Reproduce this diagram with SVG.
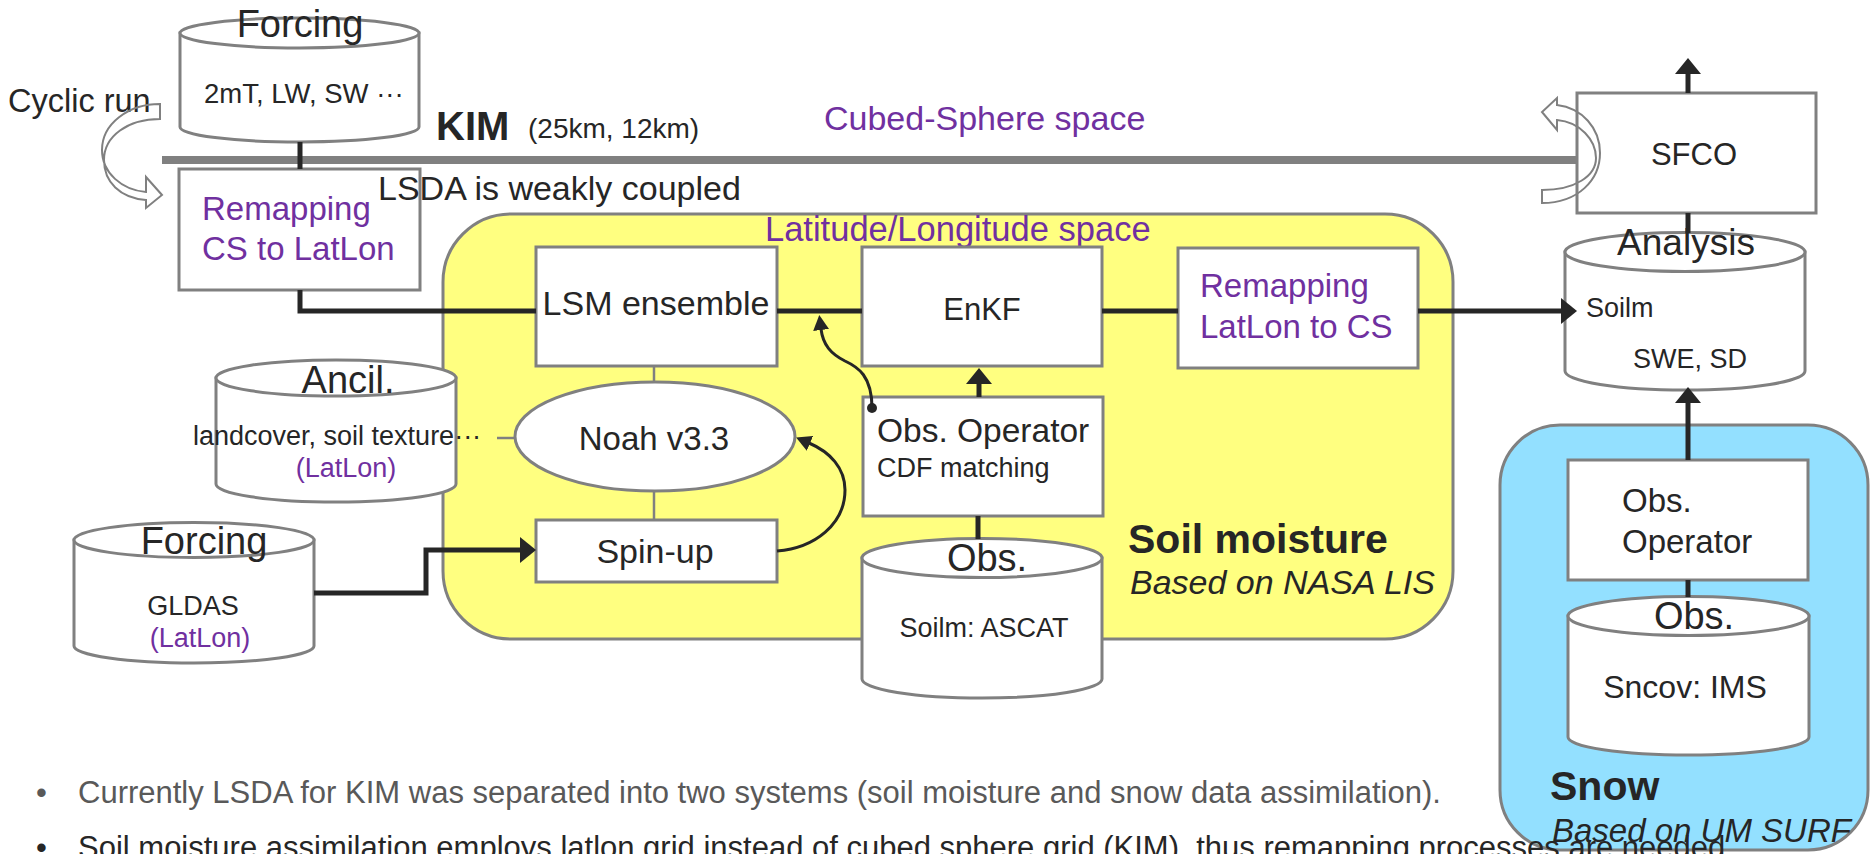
<svg xmlns="http://www.w3.org/2000/svg" width="1872" height="854" viewBox="0 0 1872 854">
<style>
.box{fill:#ffffff;stroke:#808080;stroke-width:3}
.cyl{fill:#ffffff;stroke:#808080;stroke-width:3}
.t{font-family:"Liberation Sans",Arial,sans-serif;fill:#262626}
.p{fill:#7030A0}
.c{text-anchor:middle}
.conn{stroke:#262626;stroke-width:5;fill:none}
.thin{stroke:#262626;stroke-width:3;fill:none}
.gline{stroke:#808080;stroke-width:2.5;fill:none}
.cyc{stroke:#808080;stroke-width:2;fill:none;stroke-linejoin:miter}
</style>
<defs>
<marker id="ah" markerUnits="userSpaceOnUse" markerWidth="16" markerHeight="26" viewBox="0 0 16 26" refX="0" refY="13" orient="auto"><path d="M0,0 L16,13 L0,26 Z" fill="#262626"/></marker>
<marker id="ahs" markerUnits="userSpaceOnUse" markerWidth="15" markerHeight="16" viewBox="0 0 15 16" refX="1" refY="8" orient="auto"><path d="M0,0 L15,8 L0,16 Z" fill="#262626"/></marker>
<marker id="dot" markerUnits="userSpaceOnUse" markerWidth="12" markerHeight="12" viewBox="0 0 12 12" refX="6" refY="6"><circle cx="6" cy="6" r="5" fill="#262626"/></marker>
</defs>
<rect width="1872" height="854" fill="#ffffff"/>

<!-- regions -->
<g id="kim-bar">
<line x1="162" y1="160" x2="1577" y2="160" stroke="#808080" stroke-width="8"/>
<text class="t" x="436" y="140" font-size="40" font-weight="bold">KIM</text>
<text class="t" x="528" y="138" font-size="28">(25km, 12km)</text>
<text class="t p" x="824" y="130" font-size="34">Cubed-Sphere space</text>
<text class="t" x="8" y="112" font-size="32.5">Cyclic run</text>
</g>
<g id="soil-moisture-region">
<rect x="443" y="214" width="1010" height="425" rx="68" ry="68" fill="#FFFF80" stroke="#808080" stroke-width="3"/>
<text class="t p" x="765" y="241" font-size="34.5">Latitude/Longitude space</text>
<text class="t" x="1128" y="553" font-size="41" font-weight="bold">Soil moisture</text>
<text class="t" x="1130" y="594" font-size="34" font-style="italic">Based on NASA LIS</text>
</g>
<g id="snow-region">
<rect x="1500" y="425" width="368" height="425" rx="60" ry="60" fill="#93E0FF" stroke="#808080" stroke-width="3"/>
<text class="t" x="1550" y="800" font-size="41" font-weight="bold">Snow</text>
<text class="t" x="1552" y="842" font-size="33" font-style="italic">Based on UM SURF</text>
</g>

<!-- nodes -->
<g id="forcing-kim">
<path class="cyl" d="M180,33 V127 A119.5,15 0 0 0 419,127 V33 Z"/>
<ellipse class="cyl" cx="299.5" cy="33" rx="119.5" ry="15"/>
<text class="t c" x="300" y="37" font-size="38">Forcing</text>
<text class="t" x="204" y="103" font-size="27.5">2mT, LW, SW ···</text>
</g>
<g id="remap-cs-latlon">
<rect class="box" x="179" y="169" width="241" height="121"/>
<text class="t p" x="202" y="220" font-size="33">Remapping</text>
<text class="t p" x="202" y="260" font-size="33">CS to LatLon</text>
</g>
<g id="lsm-ensemble">
<rect class="box" x="536" y="247" width="241" height="119"/>
<text class="t c" x="656" y="315" font-size="34">LSM ensemble</text>
</g>
<g id="enkf">
<rect class="box" x="862" y="247" width="240" height="119"/>
<text class="t c" x="982" y="320" font-size="31">EnKF</text>
</g>
<g id="remap-latlon-cs">
<rect class="box" x="1178" y="248" width="240" height="120"/>
<text class="t p" x="1200" y="297" font-size="33">Remapping</text>
<text class="t p" x="1200" y="338" font-size="33">LatLon to CS</text>
</g>
<g id="ancil">
<path class="cyl" d="M216,378 V484 A120,18 0 0 0 456,484 V378 Z"/>
<ellipse class="cyl" cx="336" cy="378" rx="120" ry="18"/>
<text class="t c" x="348" y="393" font-size="38">Ancil.</text>
<text class="t" x="193" y="445" font-size="27">landcover, soil texture···</text>
<text class="t p c" x="346" y="477" font-size="27">(LatLon)</text>
</g>
<g id="noah">
<ellipse cx="655" cy="436.5" rx="140" ry="54.5" fill="#ffffff" stroke="#808080" stroke-width="3"/>
<text class="t c" x="654" y="450" font-size="33">Noah v3.3</text>
</g>
<g id="spin-up">
<rect class="box" x="536" y="520" width="241" height="62"/>
<text class="t c" x="655" y="563" font-size="34">Spin-up</text>
</g>
<g id="forcing-gldas">
<path class="cyl" d="M74,540 V646 A120,17 0 0 0 314,646 V540 Z"/>
<ellipse class="cyl" cx="194" cy="540" rx="120" ry="17.5"/>
<text class="t c" x="204" y="554" font-size="38">Forcing</text>
<text class="t c" x="193" y="615" font-size="27">GLDAS</text>
<text class="t p c" x="200" y="647" font-size="27">(LatLon)</text>
</g>
<g id="obs-operator-soil">
<rect class="box" x="863" y="397" width="240" height="119"/>
<text class="t" x="877" y="442" font-size="33.5">Obs. Operator</text>
<text class="t" x="877" y="477" font-size="27">CDF matching</text>
</g>
<g id="obs-soil">
<path class="cyl" d="M862,558 V679 A120,19 0 0 0 1102,679 V558 Z"/>
<ellipse class="cyl" cx="982" cy="558" rx="120" ry="19.5"/>
<text class="t c" x="987" y="571" font-size="38">Obs.</text>
<text class="t c" x="984" y="637" font-size="27">Soilm: ASCAT</text>
</g>
<g id="sfco">
<rect class="box" x="1577" y="93" width="239" height="120"/>
<text class="t c" x="1694" y="165" font-size="31">SFCO</text>
</g>
<g id="analysis">
<path class="cyl" d="M1565,252 V371 A120,19 0 0 0 1805,371 V252 Z"/>
<ellipse class="cyl" cx="1685" cy="252" rx="120" ry="19.5"/>
<text class="t c" x="1686" y="255" font-size="37">Analysis</text>
<text class="t" x="1586" y="317" font-size="27">Soilm</text>
<text class="t" x="1633" y="368" font-size="27">SWE, SD</text>
</g>
<g id="obs-operator-snow">
<rect class="box" x="1568" y="460" width="240" height="120"/>
<text class="t" x="1622" y="512" font-size="33">Obs.</text>
<text class="t" x="1622" y="553" font-size="33">Operator</text>
</g>
<g id="obs-snow">
<path class="cyl" d="M1568,616 V737 A120.5,18 0 0 0 1809,737 V616 Z"/>
<ellipse class="cyl" cx="1688.5" cy="616" rx="120.5" ry="19.5"/>
<text class="t c" x="1694" y="629" font-size="38">Obs.</text>
<text class="t c" x="1685" y="698" font-size="32">Sncov: IMS</text>
</g>

<!-- connectors -->
<g id="connectors">
<path class="conn" d="M300,142 V169"/>
<path class="conn" d="M300,290 V311 H536"/>
<path class="conn" d="M777,311 H862"/>
<path class="conn" d="M1102,311 H1178"/>
<path class="conn" d="M1418,311 H1561" marker-end="url(#ah)"/>
<path class="conn" d="M1688,93 V74" marker-end="url(#ah)"/>
<path class="conn" d="M1688,213 V233"/>
<path class="conn" d="M1688,460 V403" marker-end="url(#ah)"/>
<path class="conn" d="M1688,580 V597"/>
<path class="conn" d="M979,397 V384" marker-end="url(#ah)"/>
<path class="conn" d="M978,516 V539"/>
<path class="conn" d="M314,593 H426 V550 H520" marker-end="url(#ah)"/>
<path class="gline" d="M497,438 H515"/>
<path class="gline" d="M654,366 V382"/>
<path class="gline" d="M654,491 V520"/>
<path class="thin" d="M777,551 C815,548 845,524 845,490 C845,468 830,452 809,443" marker-end="url(#ahs)"/>
<path class="thin" d="M872,408 C872,376 858,367 845,361 C831,354 823,345 821,329" marker-start="url(#dot)" marker-end="url(#ahs)"/>
</g>

<g id="cyclic-arrows">
<path class="cyc" d="M160,104 C128,104 102,124 102,150 C102,173 122,190 146,192 L146,177 L162,195 L146,208 L146,200 C120,198 104,182 104,160 C104,136 128,119 160,119 Z"/>
<path class="cyc" d="M1542,203 C1578,203 1600,180 1600,153 C1600,128 1582,108 1557,105 L1557,98 L1542,112 L1557,130 L1557,120 C1580,122 1596,140 1596,158 C1596,176 1575,190 1542,190 Z"/>
</g>

<g id="labels">
<text class="t" x="378" y="200" font-size="34">LSDA is weakly coupled</text>
</g>

<g id="bullets">
<text class="t" x="36" y="803" font-size="31" style="fill:#595959">•</text>
<text class="t" x="78" y="803" font-size="31" style="fill:#595959">Currently LSDA for KIM was separated into two systems (soil moisture and snow data assimilation).</text>
<text class="t" x="36" y="858" font-size="31">•</text>
<text class="t" x="78" y="858" font-size="31">Soil moisture assimilation employs latlon grid instead of cubed sphere grid (KIM), thus remapping processes are needed.</text>
</g>
</svg>
